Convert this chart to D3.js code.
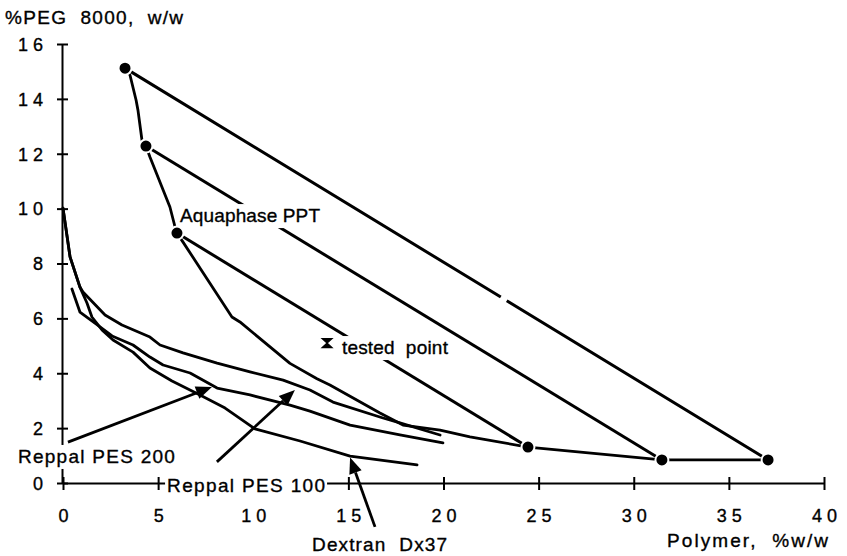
<!DOCTYPE html>
<html>
<head>
<meta charset="utf-8">
<script src="https://cdn.jsdelivr.net/npm/d3@7"></script>
<style>
body { margin: 0; background: #fff; }
svg { display: block; background: #fff; }
text { font-family: "Liberation Sans", Arial, Helvetica, sans-serif; fill: #000; stroke: #000; stroke-width: 0.35px; white-space: pre; }
</style>
</head>
<body>
<svg></svg>
<script>
"use strict"
// binodale Aquaphase PPT
const aquaX = [3.26, 3.52, 3.84, 3.94, 4.15, 4.36, 4.57, 5.62, 5.89, 5.99, 6.31, 8.88, 9.30, 11.93, 13.35, 14.03, 16.66, 17.87, 19.82, 21.39, 24.44, 31.48, 37.06];
const aquaY = [15.12, 14.87, 13.96, 13.59, 12.5, 12.28, 11.88, 10.06, 9.33, 9.11, 8.78, 6.05, 5.87, 4.36, 3.8, 3.57, 2.55, 2.11, 1.93, 1.68, 1.31, 0.84, 0.84];
// Reppal PES 100
const pes100X = [0, 0.37, 0.89, 1.05, 2.21, 3.10, 4.57, 5.10, 6.31, 8.10, 9.83, 11.57, 12.98, 14.19, 16.82, 17.71, 19.82];
const pes100Y = [10.02, 8.24, 7.14, 6.96, 6.12, 5.76, 5.32, 5.03, 4.74, 4.37, 4.05, 3.75, 3.39, 2.95, 2.37, 2.19, 1.75];
// Reppal PES 200
const pes200X = [0.47, 0.89, 1.68, 2.58, 3.68, 4.57, 5.26, 6.68, 8.10, 9.83, 11.93, 12.98, 15.09, 17.71, 19.97];
const pes200Y = [7.07, 6.23, 5.83, 5.36, 5.03, 4.59, 4.30, 4.01, 3.46, 3.21, 2.84, 2.62, 2.11, 1.75, 1.46];
// Dextran Dx37
const dexX = [0, 0.37, 0.89, 1.26, 1.52, 2.05, 2.63, 3.68, 4.57, 5.73, 7.20, 8.52, 10.09, 12.46, 15.09, 18.61];
const dexY = [10.02, 8.24, 7.14, 6.56, 6.05, 5.58, 5.21, 4.77, 4.19, 3.72, 3.21, 2.73, 1.97, 1.53, 0.98, 0.66];
// tie line: estremi
const tieSxX = [3.26, 4.36, 5.99];
const tieSxY = [15.12, 12.28, 9.11];
const tieDxX = [37.06, 31.48, 24.44];
const tieDxY = [0.84, 0.84, 1.31];
const puntoTest = [13.88, 5.10];

const tickX = [0, 5, 10, 15, 20, 25, 30, 35, 40];
const tickY = [0, 2, 4, 6, 8, 10, 12, 14, 16];

const grafico = { w: 847, h: 556 };
const font = "'Liberation Sans', Arial, Helvetica, sans-serif";

const svg = d3.select("svg")
    .attr("width", grafico.w)
    .attr("height", grafico.h);

const scalaX = d3.scaleLinear().domain([0, 40]).range([63, 824]);
const scalaY = d3.scaleLinear().domain([0, 16]).range([483, 44]);

function spazia(d) { return String(d).split("").join(" "); }
function coppie(xs, ys) { return xs.map(function (x, i) { return [x, ys[i]]; }); }

const linea = d3.line()
    .x(function (d) { return scalaX(d[0]); })
    .y(function (d) { return scalaY(d[1]); });

// assi
const asseX = d3.axisBottom(scalaX).tickValues(tickX).tickSizeOuter(0).tickFormat(spazia);
const gX = svg.append("g")
    .attr("transform", `translate(0,${scalaY(0)})`)
    .call(asseX)
    .attr("font-size", 18)
    .attr("font-family", font);
gX.select(".domain").attr("stroke-width", 2);
gX.selectAll(".tick line").attr("y1", -6).attr("y2", 7).attr("stroke-width", 2);
gX.selectAll(".tick text").attr("y", 39).attr("dy", null);

const asseY = d3.axisLeft(scalaY).tickValues(tickY).tickSizeOuter(0).tickFormat(spazia);
const gY = svg.append("g")
    .attr("transform", "translate(62,0)")
    .call(asseY)
    .attr("font-size", 18)
    .attr("font-family", font);
gY.select(".domain").attr("stroke-width", 2);
gY.selectAll(".tick line").attr("x1", -5).attr("x2", 6).attr("stroke-width", 2);
gY.selectAll(".tick text").attr("x", -19).attr("dy", "0.35em");

// curve
const curve = [coppie(aquaX, aquaY), coppie(pes100X, pes100Y), coppie(pes200X, pes200Y), coppie(dexX, dexY)];
svg.selectAll(".curva")
    .data(curve)
    .enter()
    .append("path")
    .attr("class", "curva")
    .attr("d", linea)
    .attr("fill", "none")
    .attr("stroke", "#000")
    .attr("stroke-width", 2.8)
    .attr("stroke-linejoin", "round")
    .attr("stroke-linecap", "round");

svg.selectAll(".tie")
    .data(tieSxX)
    .enter()
    .append("line")
    .attr("class", "tie")
    .attr("x1", function (d) { return scalaX(d); })
    .attr("y1", function (d, i) { return scalaY(tieSxY[i]); })
    .attr("x2", function (d, i) { return scalaX(tieDxX[i]); })
    .attr("y2", function (d, i) { return scalaY(tieDxY[i]); })
    .attr("stroke", "#000")
    .attr("stroke-width", 3)
    .attr("stroke-dasharray", function (d, i) { return i === 0 ? "440,7,1000" : null; }); // piccola interruzione nella scansione

// frecce
const frecce = [
    { da: [0.26, 1.49], a: [7.83, 3.50] },
    { da: [8.09, 0.77], a: [12.19, 3.39] },
    { da: [16.4, -1.6], a: [15.09, 0.93] }
];
frecce.forEach(function (f) {
    const x1 = scalaX(f.da[0]), y1 = scalaY(f.da[1]);
    const x2 = scalaX(f.a[0]), y2 = scalaY(f.a[1]);
    const ang = Math.atan2(y2 - y1, x2 - x1);
    const L = 16, W = 6.5;
    const bx = x2 - L * Math.cos(ang), by = y2 - L * Math.sin(ang);
    svg.append("line")
        .attr("x1", x1).attr("y1", y1).attr("x2", bx).attr("y2", by)
        .attr("stroke", "#000").attr("stroke-width", 2.8);
    svg.append("path")
        .attr("d", `M${x2},${y2}L${bx - W * Math.sin(ang)},${by + W * Math.cos(ang)}L${bx + W * Math.sin(ang)},${by - W * Math.cos(ang)}Z`)
        .attr("fill", "#000");
});

// etichette
const etichette = [
    { testo: "Reppal PES 200", x: -2.37, y: 0.73, w: 157, sfondo: true },
    { testo: "Reppal PES 100", x: 5.47, y: -0.33, w: 158, sfondo: true },
    { testo: "Dextran  Dx37", x: 13.09, y: -2.48, w: 135, sfondo: false },
    { testo: "Aquaphase PPT", x: 6.15, y: 9.51, w: 140, sfondo: true },
    { testo: "tested  point", x: 14.66, y: 4.70, w: 106, sfondo: true }
];
etichette.forEach(function (e) {
    const t = svg.append("text")
        .attr("x", scalaX(e.x))
        .attr("y", scalaY(e.y))
        .attr("font-size", 19)
        .attr("textLength", e.w)
        .attr("lengthAdjust", "spacing")
        .text(e.testo);
    if (e.sfondo) {
        const b = t.node().getBBox();
        svg.insert("rect", function () { return t.node(); })
            .attr("x", b.x - 2).attr("y", b.y - 1)
            .attr("width", b.width + 4).attr("height", b.height + 3)
            .attr("fill", "#fff");
    }
});

svg.append("text").attr("x", 5).attr("y", 24).attr("font-size", 19)
    .attr("textLength", 178).text("%PEG  8000,  w/w");
svg.append("text").attr("x", 667).attr("y", 547).attr("font-size", 19)
    .attr("textLength", 161).text("Polymer,  %w/w");

// punti
const punti = coppie(tieSxX.concat(tieDxX), tieSxY.concat(tieDxY));
svg.selectAll(".punto")
    .data(punti)
    .enter()
    .append("circle")
    .attr("class", "punto")
    .attr("cx", function (d) { return scalaX(d[0]); })
    .attr("cy", function (d) { return scalaY(d[1]); })
    .attr("r", 6.5)
    .attr("fill", "#000")
    .attr("stroke", "#fff")
    .attr("stroke-width", 2);

svg.append("path")
    .attr("transform", `translate(${scalaX(puntoTest[0])},${scalaY(puntoTest[1])})`)
    .attr("d", "M-5,-4.5L5,-4.5L-5,4.5L5,4.5Z")
    .attr("fill", "#000")
    .attr("stroke", "#000")
    .attr("stroke-width", 1.2);
</script>
</body>
</html>
